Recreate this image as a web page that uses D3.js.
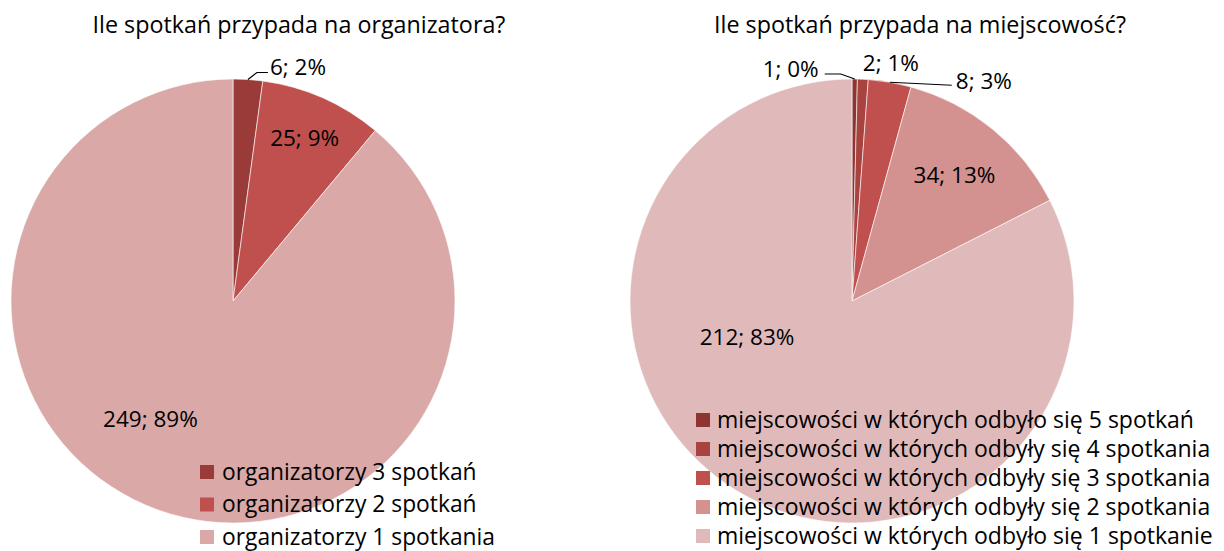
<!DOCTYPE html>
<html>
<head>
<meta charset="UTF-8">
<script src="https://d3js.org/d3.v7.min.js"></script>
<style>
  body { margin: 0; background: #fff; }
  text { font-family: "Open Sans", "DejaVu Sans", sans-serif; fill: #000; }
</style>
</head>
<body>
<script>
// left chart
var orgCategories = ["organizatorzy 3 spotkań", "organizatorzy 2 spotkań", "organizatorzy 1 spotkania"];
var orgValues = [6, 25, 249];
var orgPercents = ["2%", "9%", "89%"];
var orgColors = ["#9a3b39", "#c0504d", "#d9a8a7"];

// right chart
var placeCategories = [
  "miejscowości w których odbyło się 5 spotkań",
  "miejscowości w których odbyły się 4 spotkania",
  "miejscowości w których odbyły się 3 spotkania",
  "miejscowości w których odbyły się 2 spotkania",
  "miejscowości w których odbyło się 1 spotkanie"
];
var placeValues = [1, 2, 8, 34, 212];
var placePercents = ["0%", "1%", "3%", "13%", "83%"];
var placeColors = ["#8e3532", "#a8433f", "#c0504d", "#d39190", "#e0baba"];

var W = 1224, H = 551;
var FS = "22.5px";
var svg = d3.select("body").append("svg").attr("width", W).attr("height", H);

function drawPie(cfg) {
  var g = svg.append("g").attr("transform", "translate(" + cfg.cx + "," + cfg.cy + ")");
  var pie = d3.pie().sort(null).value(function(d) { return d; });
  var arcs = pie(cfg.values);
  var arc = d3.arc().innerRadius(0).outerRadius(cfg.r);

  g.selectAll("path.slice")
    .data(arcs)
    .enter().append("path")
    .attr("class", "slice")
    .attr("d", arc)
    .attr("fill", function(d, i) { return cfg.colors[i]; })
    .attr("stroke", "#fff")
    .attr("stroke-width", 0.6);

  arcs.forEach(function(d, i) {
    var lp = cfg.labels[i];
    var label = cfg.values[i] + "; " + cfg.percents[i];
    var mid = (d.startAngle + d.endAngle) / 2;
    if (lp.out) {
      // outside label, optional leader line from the slice edge
      var ex = Math.sin(mid) * cfg.r, ey = -Math.cos(mid) * cfg.r;
      if (lp.line) {
        var pts = lp.line.map(function(p) { return [ex + p[0], ey + p[1]]; });
        pts.unshift([ex, ey]);
        g.append("path")
          .attr("d", d3.line()(pts))
          .attr("fill", "none")
          .attr("stroke", "#000")
          .attr("stroke-width", 1.2);
      }
      g.append("text")
        .attr("x", ex + lp.tx)
        .attr("y", ey + lp.ty)
        .attr("dy", "0.35em")
        .attr("text-anchor", lp.anchor)
        .style("font-size", FS)
        .text(label);
    } else {
      var a = mid + lp.da * Math.PI / 180;
      var rr = cfg.r * lp.rf;
      g.append("text")
        .attr("x", Math.sin(a) * rr)
        .attr("y", -Math.cos(a) * rr)
        .attr("dy", "0.35em")
        .attr("text-anchor", "middle")
        .style("font-size", FS)
        .text(label);
    }
  });

  svg.append("text")
    .attr("x", cfg.titleX)
    .attr("y", 25)
    .attr("dy", "0.35em")
    .attr("text-anchor", "middle")
    .style("font-size", "23.3px")
    .text(cfg.title);

  var lg = svg.append("g").attr("transform", "translate(" + cfg.legX + "," + cfg.legY + ")");
  var item = lg.selectAll("g")
    .data(cfg.categories)
    .enter().append("g")
    .attr("transform", function(d, i) { return "translate(0," + (i * cfg.legStep) + ")"; });
  item.append("rect")
    .attr("x", 0).attr("y", -7)
    .attr("width", 14).attr("height", 14)
    .attr("fill", function(d, i) { return cfg.colors[i]; });
  item.append("text")
    .attr("x", cfg.legText)
    .attr("dy", "0.35em")
    .style("font-size", cfg.legFont)
    .text(function(d) { return d; });
}

drawPie({
  cx: 233, cy: 301, r: 222,
  values: orgValues, percents: orgPercents, colors: orgColors, categories: orgCategories,
  title: "Ile spotkań przypada na organizatora?", titleX: 299,
  labels: [
    { out: true, line: [[9, -7], [20, -7]], tx: 22, ty: -12, anchor: "start" },
    { da: 0, rf: 0.8 },
    { da: 15, rf: 0.65 }
  ],
  legX: 200, legY: 472, legStep: 32.5, legText: 22, legFont: "22.8px"
});

drawPie({
  cx: 852, cy: 301, r: 222,
  values: placeValues, percents: placePercents, colors: placeColors, categories: placeCategories,
  title: "Ile spotkań przypada na miejscowość?", titleX: 920,
  labels: [
    { out: true, line: [[-14, -5], [-30, -5]], tx: -36, ty: -10, anchor: "end" },
    { out: true, tx: 28, ty: -16, anchor: "middle" },
    { out: true, line: [[62, 3]], tx: 66, ty: -1, anchor: "start" },
    { da: 0, rf: 0.73 },
    { da: 39.5, rf: 0.5 }
  ],
  legX: 696, legY: 420, legStep: 29, legText: 21, legFont: "23px"
});
</script>
</body>
</html>
